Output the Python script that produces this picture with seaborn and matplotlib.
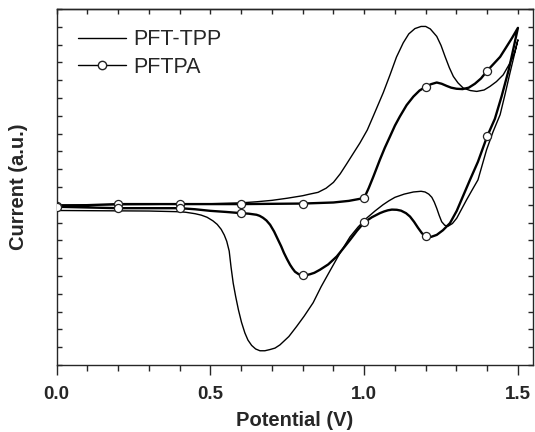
import numpy as np
import pandas as pd
import matplotlib
matplotlib.use("Agg")
import matplotlib.pyplot as plt
from matplotlib.lines import Line2D
from matplotlib.ticker import MultipleLocator, FormatStrFormatter
import seaborn as sns

# ---------------- data (potential in V, current in a.u.) ----------------
tpp_fwd_v = [0.0, 0.1, 0.2, 0.3, 0.4, 0.5, 0.6, 0.65, 0.7, 0.75, 0.8, 0.82, 0.85,
             0.876, 0.9, 0.922, 0.943, 0.965, 0.986, 1.01, 1.03, 1.062, 1.084,
             1.105, 1.127, 1.145, 1.165, 1.185, 1.2, 1.215, 1.236, 1.25, 1.263,
             1.277, 1.29, 1.305, 1.322, 1.345, 1.366, 1.39, 1.409, 1.43, 1.452,
             1.474, 1.49, 1.5]
tpp_fwd_i = [0.0, 0.0, 0.01, 0.02, 0.04, 0.06, 0.11, 0.17, 0.25, 0.37, 0.51, 0.59, 0.70,
             0.93, 1.26, 1.74, 2.30, 2.9, 3.47, 4.2, 5.0, 6.3, 7.3,
             8.3, 9.1, 9.6, 9.9, 10.02, 10.02, 9.88, 9.46, 8.95, 8.33,
             7.7, 7.21, 6.85, 6.56, 6.42, 6.37, 6.45, 6.65, 6.92, 7.30,
             7.96, 8.6, 9.27]
tpp_rev_v = [1.5, 1.49, 1.474, 1.458, 1.442, 1.419, 1.398, 1.37, 1.35, 1.333, 1.315,
             1.301, 1.287, 1.273, 1.262, 1.252, 1.244, 1.236, 1.228, 1.22, 1.21,
             1.198, 1.185, 1.16, 1.13, 1.1, 1.08, 1.061, 1.035, 1.008, 0.98, 0.954,
             0.92, 0.889, 0.86, 0.834, 0.805, 0.78, 0.755, 0.726, 0.71, 0.694,
             0.677, 0.661, 0.647, 0.634, 0.622, 0.612, 0.601, 0.591, 0.582, 0.574,
             0.567, 0.561, 0.553, 0.545, 0.535, 0.522, 0.508, 0.489, 0.47, 0.45,
             0.42, 0.4, 0.3, 0.2, 0.1, 0.0]
tpp_rev_i = [9.27, 8.55, 7.4, 6.2, 5.06, 4.1, 3.09, 1.40, 0.8, 0.28, -0.3,
             -0.75, -1.05, -1.2, -1.15, -0.95, -0.6, -0.2, 0.15, 0.42, 0.6,
             0.72, 0.76, 0.72, 0.6, 0.42, 0.22, 0.0, -0.35, -0.75, -1.25, -1.8,
             -2.75, -3.7, -4.6, -5.5, -6.25, -6.84, -7.4, -7.87, -8.05, -8.13,
             -8.2, -8.2, -8.1, -7.9, -7.6, -7.2, -6.6, -5.9, -5.15, -4.4,
             -3.5, -2.6, -2.05, -1.7, -1.38, -1.1, -0.9, -0.7, -0.58, -0.5,
             -0.42, -0.39, -0.35, -0.34, -0.33, -0.32]

pa_fwd_v = [0.0, 0.2, 0.4, 0.6, 0.8, 0.9, 0.95, 1.0, 1.015, 1.03, 1.051, 1.067,
            1.084, 1.1, 1.116, 1.138, 1.16, 1.18, 1.2, 1.218, 1.236, 1.252, 1.268,
            1.283, 1.3, 1.32, 1.34, 1.36, 1.38, 1.4, 1.42, 1.442, 1.46, 1.48, 1.5]
pa_fwd_i = [-0.08, 0.04, 0.04, 0.04, 0.07, 0.13, 0.22, 0.38, 0.95, 1.59, 2.53, 3.2,
            3.84, 4.45, 4.96, 5.6, 6.08, 6.42, 6.63, 6.78, 6.87, 6.8, 6.68,
            6.58, 6.52, 6.5, 6.58, 6.8, 7.1, 7.53, 7.9, 8.31, 8.8, 9.35, 9.94]
pa_rev_v = [1.5, 1.485, 1.47, 1.447, 1.425, 1.4, 1.37, 1.344, 1.321, 1.301, 1.279,
            1.256, 1.236, 1.218, 1.2, 1.188, 1.175, 1.162, 1.149, 1.136, 1.12,
            1.106, 1.09, 1.077, 1.064, 1.051, 1.025, 1.0, 0.977, 0.954, 0.932,
            0.911, 0.883, 0.856, 0.838, 0.824, 0.812, 0.8, 0.787, 0.775, 0.767,
            0.759, 0.749, 0.739, 0.73, 0.72, 0.707, 0.694, 0.682, 0.671, 0.66,
            0.65, 0.625, 0.6, 0.55, 0.5, 0.45, 0.4, 0.2, 0.0]
pa_rev_i = [9.94, 8.75, 7.58, 6.1, 4.83, 3.85, 2.42, 1.40, 0.47, -0.34, -1.03,
            -1.43, -1.69, -1.8, -1.78, -1.6, -1.29, -0.95, -0.66, -0.47, -0.33,
            -0.28, -0.27, -0.31, -0.38, -0.47, -0.7, -0.99, -1.45, -1.97, -2.45,
            -2.90, -3.35, -3.65, -3.82, -3.9, -3.95, -3.97, -3.9, -3.76, -3.58,
            -3.37, -3.05, -2.70, -2.33, -1.97, -1.5, -1.12, -0.88, -0.73, -0.62,
            -0.56, -0.5, -0.47, -0.4, -0.34, -0.25, -0.19, -0.19, -0.11]

marker_step = 0.2

labels = ["PFT-TPP", "PFTPA"]

# ---------------- build tables ----------------
tpp = pd.DataFrame({"Potential": tpp_fwd_v + tpp_rev_v,
                    "Current": tpp_fwd_i + tpp_rev_i,
                    "Sample": labels[0]})
pa = pd.DataFrame({"Potential": pa_fwd_v + pa_rev_v,
                   "Current": pa_fwd_i + pa_rev_i,
                   "Sample": labels[1]})
v = pa["Potential"].to_numpy()
is_mark = np.isclose(np.round(v / marker_step) * marker_step, v)
pa_marks = pa[is_mark]

# ---------------- figure ----------------
sns.set_style("ticks")
plt.rcParams["font.family"] = ["Liberation Sans", "DejaVu Sans"]

W, H = 535, 432
fig = plt.figure(figsize=(W / 100, H / 100), dpi=100)
ax = fig.add_axes([56.7 / W, 1 - 365 / H, (533 - 56.7) / W, (365 - 9) / H])

sns.lineplot(data=tpp, x="Potential", y="Current", sort=False, estimator=None,
             color="black", lw=1.0, ax=ax)
sns.lineplot(data=pa, x="Potential", y="Current", sort=False, estimator=None,
             color="black", lw=1.7, ax=ax)
sns.scatterplot(data=pa_marks, x="Potential", y="Current", marker="o", s=34,
                facecolor="white", edgecolor="#222222", linewidth=0.9,
                zorder=5, ax=ax, clip_on=True)

ax.set_xlim(0, 1.549)
ax.set_ylim(-9, 11)

ax.xaxis.set_major_locator(MultipleLocator(0.5))
ax.xaxis.set_minor_locator(MultipleLocator(0.1))
ax.xaxis.set_major_formatter(FormatStrFormatter("%.1f"))
ax.yaxis.set_major_locator(MultipleLocator(1))
ax.tick_params(axis="x", which="major", direction="out", length=7, width=1,
               labelsize=13.5, pad=8, top=False)
ax.tick_params(axis="x", which="minor", direction="out", length=4, width=1, top=False)
ax.tick_params(axis="y", which="major", direction="in", length=3.5, width=1,
               left=True, right=True, labelleft=False)
for lab in ax.get_xticklabels():
    lab.set_fontweight("bold")

top = ax.secondary_xaxis("top")
top.xaxis.set_major_locator(MultipleLocator(0.5))
top.xaxis.set_minor_locator(MultipleLocator(0.1))
top.tick_params(which="both", direction="in", length=3.5, width=1, labeltop=False)
top.spines["top"].set_linewidth(1.0)

for s in ax.spines.values():
    s.set_linewidth(1.0)
    s.set_visible(True)

ax.set_xlabel("Potential (V)", fontsize=14.5, fontweight="bold", labelpad=6)
ax.set_ylabel("Current (a.u.)", fontsize=14.5, fontweight="bold", labelpad=21)

handles = [Line2D([], [], color="black", lw=1.0),
           Line2D([], [], color="black", lw=1.0, marker="o", markersize=6,
                  markerfacecolor="white", markeredgecolor="#222222")]
ax.legend(handles, labels, loc="upper left", bbox_to_anchor=(0.014, 0.985),
          frameon=False, fontsize=15.5, handlelength=2.23, handletextpad=0.33,
          labelspacing=0.3, borderpad=0.2)

fig.savefig("out.png", dpi=100)
